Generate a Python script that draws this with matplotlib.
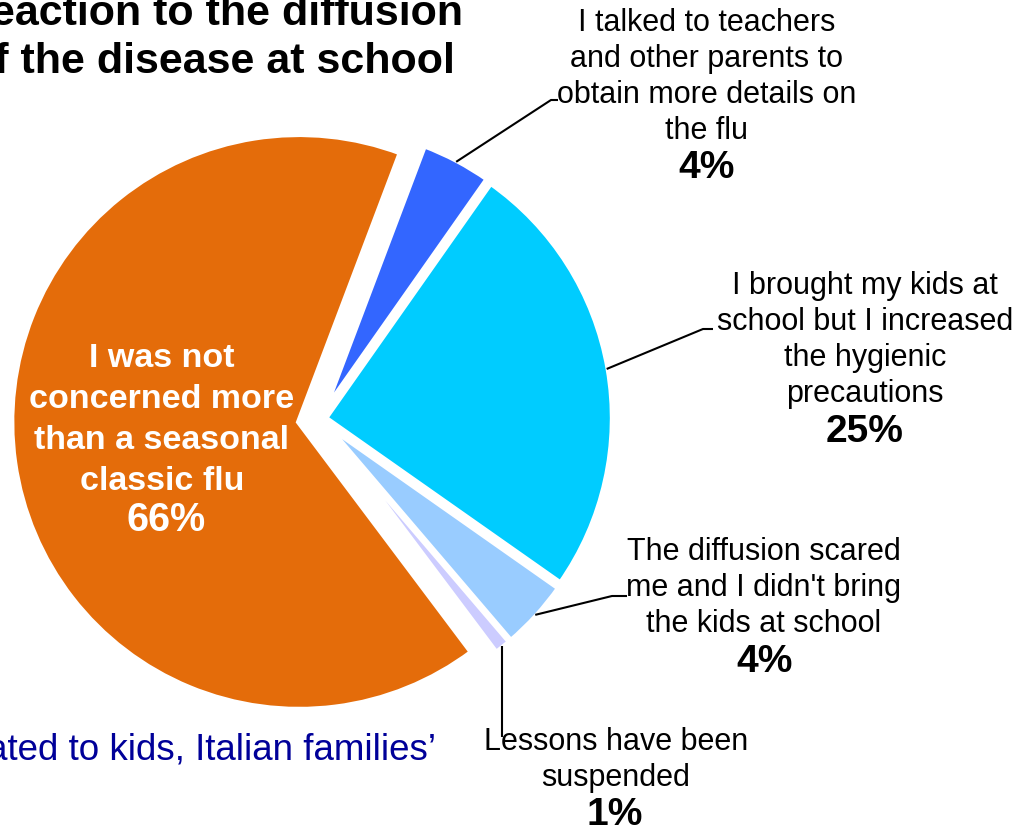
import numpy as np
import matplotlib.pyplot as plt

plt.rcParams['font.family'] = ['Liberation Sans', 'DejaVu Sans']

# dati della torta (in senso orario, partendo dalla fetta blu)
labels = [
    "I talked to teachers\nand other parents to\nobtain more details on\nthe flu",
    "I brought my kids at\nschool but I increased\nthe hygienic\nprecautions",
    "The diffusion scared\nme and I didn't bring\nthe kids at school",
    "Lessons have been\nsuspended",
    "I was not\nconcerned more\nthan a seasonal\nclassic flu",
]
values = [4, 25, 4, 1, 66]
colors = ['#3366FF', '#00CCFF', '#99CCFF', '#CCCCFF', '#E46C0A']
explode = [5, 5, 5, 5, 21]  # in pixel

title_lines = ["Reaction to the diffusion", "of the disease at school"]
footer = "Flu related to kids, Italian families\u2019"

W, H = 1020, 828

fig = plt.figure(figsize=(W / 100, H / 100), dpi=100)
ax = fig.add_axes([0, 0, 1, 1])

# coordinate in pixel, origine in basso a sinistra
wedges, _ = ax.pie(values, colors=colors, explode=explode, startangle=69.3,
                   counterclock=False, radius=288, center=(320, H - 420),
                   wedgeprops=dict(edgecolor='white', linewidth=4.5))
ax.set_xlim(0, W)
ax.set_ylim(0, H)
ax.set_aspect('auto')
ax.axis('off')

# posizioni delle etichette (pixel dall'alto)
label_xy = [(707, 77), (865, 340), (764, 588), (616, 760)]
pct_xy = [(707, 168), (865, 432), (765, 662), (615, 815)]
# gomito e fine delle linee guida
elbows = [(551, 101), (703, 330), (612, 597), None]
ends = [(558, 101), (713, 330), (627, 597), (None, 738)]

for i in range(4):
    w = wedges[i]
    mid = np.deg2rad((w.theta1 + w.theta2) / 2)
    sx = w.center[0] + (w.r - 2) * np.cos(mid)
    sy = w.center[1] + (w.r - 2) * np.sin(mid)
    if elbows[i] is None:
        xs = [sx, sx]
        ys = [sy, H - ends[i][1]]
    else:
        xs = [sx, elbows[i][0], ends[i][0]]
        ys = [sy, H - elbows[i][1], H - ends[i][1]]
    ax.plot(xs, ys, color='black', lw=1.5, solid_capstyle='butt')

    lx, ly = label_xy[i]
    ax.text(lx, H - ly, labels[i], ha='center', va='center', fontsize=22,
            linespacing=1.25, multialignment='center')
    px, py = pct_xy[i]
    ax.text(px, H - py, f"{values[i]}%", ha='center', va='center',
            fontsize=28, fontweight='bold')

# etichetta interna della fetta arancione
ax.text(162, H - 420, labels[4], ha='center', va='center', fontsize=24.5,
        fontweight='bold', color='white', linespacing=1.41, multialignment='center')
ax.text(166, H - 520, f"{values[4]}%", ha='center', va='center', fontsize=28.5,
        fontweight='bold', color='white')

# titolo (tagliato a sinistra come nell'originale)
ax.text(463, H - 25, title_lines[0], ha='right', va='baseline', fontsize=31,
        fontweight='bold')
ax.text(455, H - 73, title_lines[1], ha='right', va='baseline', fontsize=31,
        fontweight='bold')

ax.text(436, H - 760, footer, ha='right', va='baseline', fontsize=26.5, color='#000099')

fig.savefig('out.png', dpi=100)
